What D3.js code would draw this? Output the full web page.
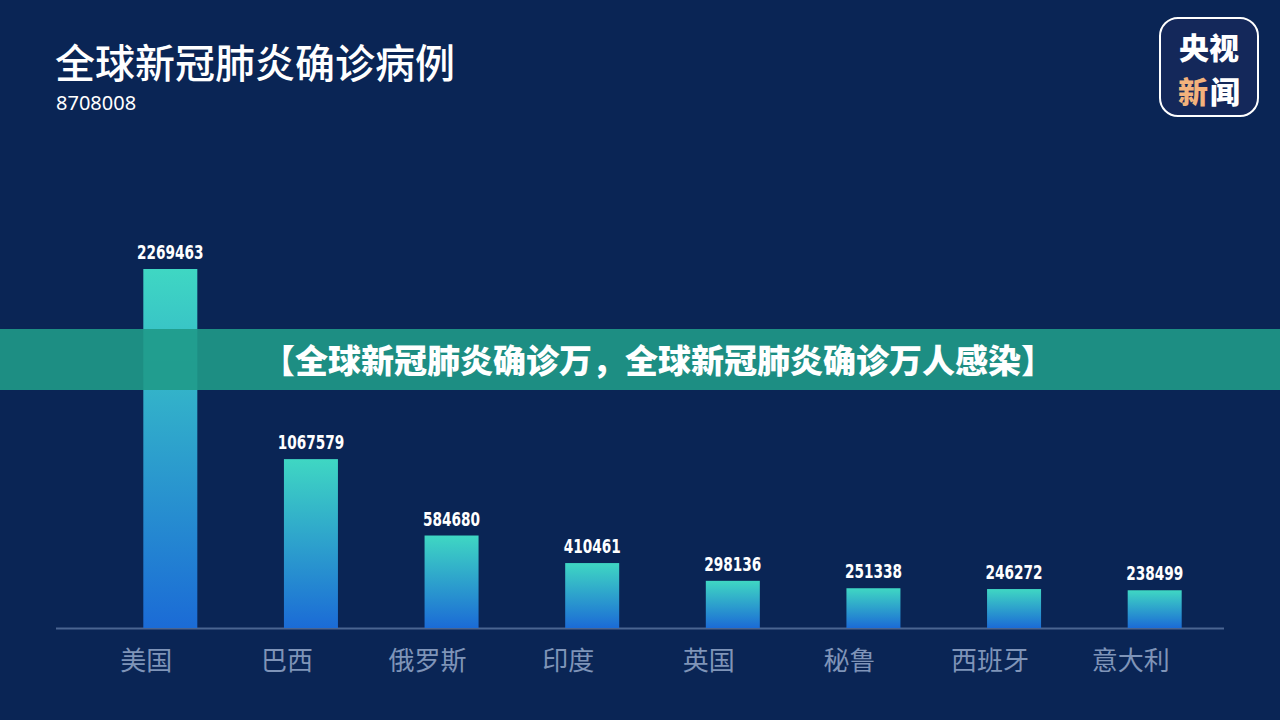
<!DOCTYPE html>
<html lang="zh-CN">
<head>
<meta charset="UTF-8">
<title>全球新冠肺炎确诊病例</title>
<script src="https://cdn.jsdelivr.net/npm/d3@7"></script>
<style>
  body{margin:0;background:#0a2555;}
  svg{display:block;}
</style>
</head>
<body>
<div id="root"></div>
<script>
const countries = ["美国","巴西","俄罗斯","印度","英国","秘鲁","西班牙","意大利"]
const cases = [2269463,1067579,584680,410461,298136,251338,246272,238499]
const totalCases = "8708008"
const titleText = "全球新冠肺炎确诊病例"
const bannerText = "【全球新冠肺炎确诊万，全球新冠肺炎确诊万人感染】"

let width = 1280, height = 720, baseY = 628
let cjk = "'Noto Sans CJK SC','Noto Sans',sans-serif"

let svg = d3.select("#root").append("svg").attr("width",width).attr("height",height)
svg.append("rect").attr("width",width).attr("height",height).attr("fill","#0a2555")

let defs = svg.append("defs")
let grad = defs.append("linearGradient").attr("id","barGrad").attr("x1",0).attr("y1",0).attr("x2",0).attr("y2",1)
grad.append("stop").attr("offset","0%").attr("stop-color","#3fd7c3")
grad.append("stop").attr("offset","100%").attr("stop-color","#1b6bd6")

// title
svg.append("text").attr("x",55).attr("y",78).attr("fill","#fff")
  .style("font-family",cjk).style("font-weight","500").style("font-size","40px").text(titleText)
svg.append("text").attr("x",56).attr("y",110).attr("fill","#fff")
  .style("font-family","'Noto Sans','Liberation Sans',sans-serif").style("font-size","20px").text(totalCases)

// scales
let x = d3.scaleBand().domain(countries).range([100,1225]).paddingInner(0.616).paddingOuter(0.308)
let y = d3.scaleLinear().domain([0,d3.max(cases)]).range([baseY,269])

// axis line
svg.append("line").attr("x1",56).attr("x2",1224).attr("y1",baseY+0.5).attr("y2",baseY+0.5)
  .attr("stroke","#4a6591").attr("stroke-width",2)

// bars
svg.selectAll(".bar").data(countries).enter().append("rect")
  .attr("x",d=>x(d)).attr("width",x.bandwidth())
  .attr("y",(d,i)=>y(cases[i])).attr("height",(d,i)=>baseY-y(cases[i]))
  .attr("fill","url(#barGrad)")

// value labels (condensed look)
svg.selectAll(".val").data(countries).enter().append("g")
  .attr("transform",(d,i)=>"translate("+(x(d)+x.bandwidth()/2)+","+(y(cases[i])-10)+") scale(0.72,1)")
  .append("text").attr("text-anchor","middle").attr("fill","#fff")
  .style("font-family","'DejaVu Sans',sans-serif").style("font-weight","bold")
  .style("font-size","19px")
  .text((d,i)=>cases[i])

// x axis labels
let axis = d3.axisBottom(x).tickSize(0).tickPadding(0)
let gx = svg.append("g").attr("transform","translate(-24,"+(baseY+42)+")").call(axis)
gx.select(".domain").remove()
gx.selectAll("text").attr("dy",0).attr("fill","#7f94b8")
  .style("font-family",cjk).style("font-size","26px")

// banner
svg.append("rect").attr("x",0).attr("y",329).attr("width",width).attr("height",61)
  .attr("fill","#1f9a88").attr("opacity",0.9)
svg.append("text").attr("x",658).attr("y",373).attr("text-anchor","middle").attr("fill","#fff")
  .style("font-family",cjk).style("font-weight","900").style("font-size","33px").text(bannerText)

// logo
let logo = svg.append("g").attr("transform","translate(1159,17)")
logo.append("rect").attr("x",1).attr("y",1).attr("width",98).attr("height",98).attr("rx",18)
  .attr("fill","#14285a").attr("stroke","#fff").attr("stroke-width",2)
let logoFont = s=>s.style("font-family",cjk).style("font-weight","900").style("font-size","30px")
logo.append("text").attr("x",50).attr("y",42).attr("text-anchor","middle").attr("fill","#fff").call(logoFont).text("央视")
logo.append("text").attr("x",34).attr("y",86).attr("text-anchor","middle").attr("fill","#f2b27c").call(logoFont).text("新")
logo.append("text").attr("x",66).attr("y",86).attr("text-anchor","middle").attr("fill","#fff").call(logoFont).text("闻")
</script>
</body>
</html>
